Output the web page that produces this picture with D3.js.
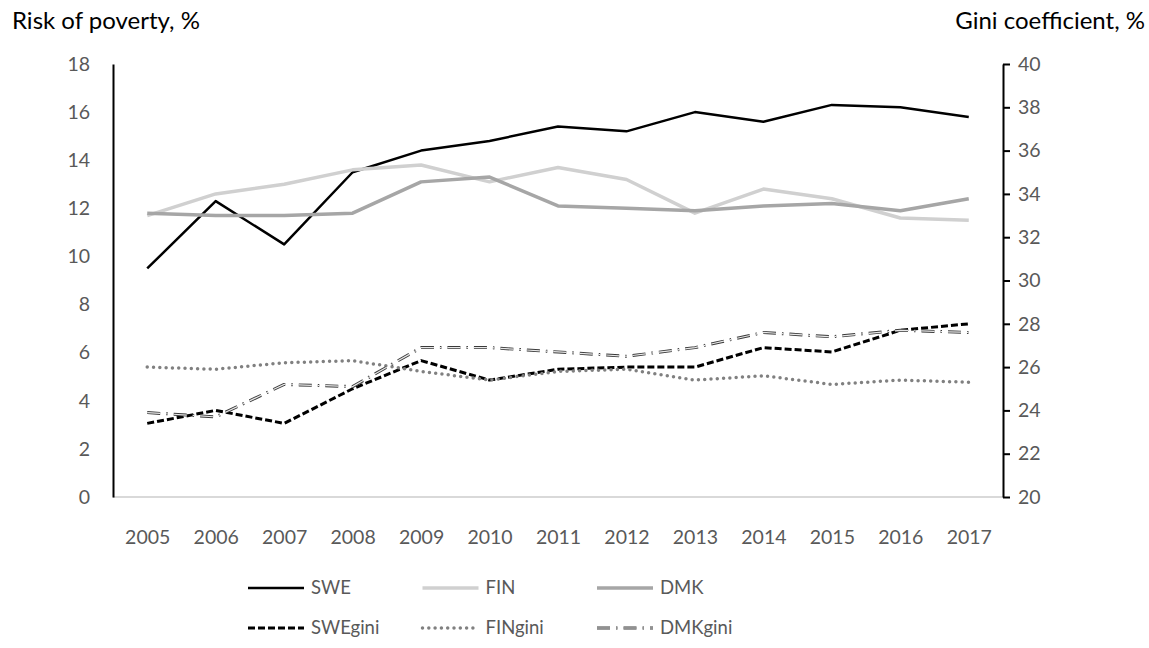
<!DOCTYPE html>
<html>
<head>
<meta charset="utf-8">
<script src="https://cdn.jsdelivr.net/npm/d3@7"></script>
<style>
  body { margin: 0; background: #fff; }
  text { font-family: Lato, "Open Sans", sans-serif; }
</style>
</head>
<body>
<svg width="1149" height="648"></svg>
<script>
// data
var years = ["2005", "2006", "2007", "2008", "2009", "2010", "2011", "2012", "2013", "2014", "2015", "2016", "2017"];

var swe = [9.5, 12.3, 10.5, 13.5, 14.4, 14.8, 15.4, 15.2, 16.0, 15.6, 16.3, 16.2, 15.8];
var fin = [11.7, 12.6, 13.0, 13.6, 13.8, 13.1, 13.7, 13.2, 11.8, 12.8, 12.4, 11.6, 11.5];
var dmk = [11.8, 11.7, 11.7, 11.8, 13.1, 13.3, 12.1, 12.0, 11.9, 12.1, 12.2, 11.9, 12.4];

var sweGini = [23.4, 24.0, 23.4, 25.0, 26.3, 25.4, 25.9, 26.0, 26.0, 26.9, 26.7, 27.7, 28.0];
var finGini = [26.0, 25.9, 26.2, 26.3, 25.8, 25.4, 25.8, 25.9, 25.4, 25.6, 25.2, 25.4, 25.3];
var dmkGini = [23.9, 23.7, 25.2, 25.1, 26.9, 26.9, 26.7, 26.5, 26.9, 27.6, 27.4, 27.7, 27.6];

var leftTicks = [0, 2, 4, 6, 8, 10, 12, 14, 16, 18];
var rightTicks = [20, 22, 24, 26, 28, 30, 32, 34, 36, 38, 40];

var svg = d3.select("svg");

var x = d3.scalePoint()
    .domain(years)
    .range([113, 1003])
    .padding(0.5);

var yL = d3.scaleLinear().domain([0, 18]).range([497, 64]);
var yR = d3.scaleLinear().domain([20, 40]).range([497, 64]);

// baseline
svg.append("line")
    .attr("x1", 113).attr("x2", 1003)
    .attr("y1", yL(0)).attr("y2", yL(0))
    .attr("stroke", "#d9d9d9")
    .attr("stroke-width", 2);

// left axis
var gL = svg.append("g")
    .attr("transform", "translate(113,0)")
    .call(d3.axisLeft(yL).tickValues(leftTicks).tickSize(0).tickPadding(23));
gL.select(".domain").attr("stroke", "#000").attr("stroke-width", 2);
gL.selectAll("text").attr("fill", "#595959").attr("font-size", 19.5);

// right axis
var gR = svg.append("g")
    .attr("transform", "translate(1003,0)")
    .call(d3.axisRight(yR).tickValues(rightTicks).tickSizeInner(7).tickSizeOuter(0).tickPadding(8));
gR.select(".domain").attr("stroke", "#000").attr("stroke-width", 2);
gR.selectAll(".tick line").attr("stroke", "#000").attr("stroke-width", 2);
gR.selectAll("text").attr("fill", "#595959").attr("font-size", 19.5);

// x axis labels
var gX = svg.append("g")
    .attr("transform", "translate(0,497)")
    .call(d3.axisBottom(x).tickSize(0).tickPadding(33));
gX.select(".domain").remove();
gX.selectAll("text").attr("fill", "#595959").attr("font-size", 19.5);

// axis titles
svg.append("text")
    .attr("x", 12).attr("y", 29)
    .attr("font-size", 24)
    .attr("fill", "#000")
    .text("Risk of poverty, %");

svg.append("text")
    .attr("x", 1145).attr("y", 29)
    .attr("font-size", 24)
    .attr("text-anchor", "end")
    .attr("fill", "#000")
    .text("Gini coefficient, %");

var series = [
    { name: "SWE", values: swe, y: yL, stroke: "#000", width: 2.5, dash: null },
    { name: "FIN", values: fin, y: yL, stroke: "#d0d0d0", width: 3.5, dash: null },
    { name: "DMK", values: dmk, y: yL, stroke: "#a6a6a6", width: 3.5, dash: null },
    { name: "SWEgini", values: sweGini, y: yR, stroke: "#000", width: 3, dash: "7,3" },
    { name: "FINgini", values: finGini, y: yR, stroke: "#808080", width: 3.5, dash: "0,6.3", cap: "round" },
    { name: "DMKgini", values: dmkGini, y: yR, stroke: "#3a3a3a", width: 3, dash: "13,6,1.5,6", inner: true }
];

function drawLine(g, s, lineGen, data) {
    g.append("path")
        .datum(data)
        .attr("d", lineGen)
        .attr("fill", "none")
        .attr("stroke", s.stroke)
        .attr("stroke-width", s.width)
        .attr("stroke-dasharray", s.dash)
        .attr("stroke-linecap", s.cap || "butt")
        .attr("stroke-linejoin", "round");
    if (s.inner) {
        g.append("path")
            .datum(data)
            .attr("d", lineGen)
            .attr("fill", "none")
            .attr("stroke", "#e8e8e8")
            .attr("stroke-width", 1.2)
            .attr("stroke-dasharray", s.dash);
    }
}

var plot = svg.append("g");
series.forEach(function (s) {
    var line = d3.line()
        .x(function (d, i) { return x(years[i]); })
        .y(function (d) { return s.y(d); });
    drawLine(plot, s, line, s.values);
});

// legend
var legend = svg.append("g");
series.forEach(function (s, i) {
    var col = i % 3, row = Math.floor(i / 3);
    var lx = 248 + col * 174.5, ly = 588 + row * 40;
    var g = legend.append("g");
    var line = d3.line().x(function (d) { return d[0]; }).y(function (d) { return d[1]; });
    drawLine(g, s, line, [[lx, ly], [lx + 56, ly]]);
    g.append("text")
        .attr("x", lx + 63).attr("y", ly)
        .attr("dy", "0.35em")
        .attr("font-size", 18.5)
        .attr("fill", "#595959")
        .text(s.name);
});
</script>
</body>
</html>
